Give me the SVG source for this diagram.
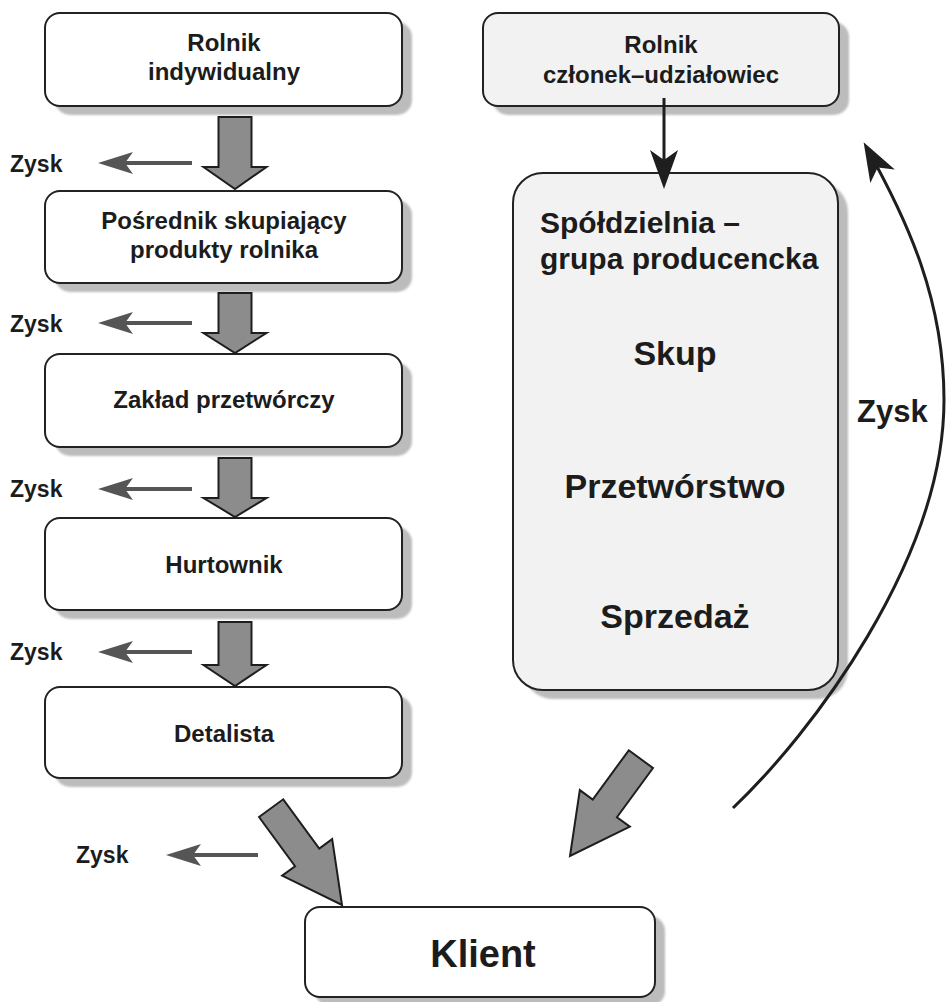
<svg xmlns="http://www.w3.org/2000/svg" width="946" height="1002" viewBox="0 0 946 1002">
<style>
text{font-family:"Liberation Sans",Arial,Helvetica,sans-serif;font-weight:bold;fill:#1c1c1c}
.box{fill:#ffffff;stroke:#222;stroke-width:2}
.box2{fill:#f2f2f2;stroke:#222;stroke-width:2}
.sh{fill:#bcbcbc;filter:url(#blur)}
.n{font-size:24px;text-anchor:middle}
.z{font-size:23px}
.blk{fill:#8c8c8c;stroke:#1e1e1e;stroke-width:2;stroke-linejoin:miter}
.thin{fill:none;stroke:#555;stroke-width:4;marker-end:url(#hg)}
.dark{fill:none;stroke:#1e1e1e;stroke-width:3;marker-end:url(#hb)}
</style>
<defs>
<filter id="blur" x="-10%" y="-10%" width="120%" height="120%"><feGaussianBlur stdDeviation="1.2"/></filter>
<marker id="hg" markerUnits="userSpaceOnUse" markerWidth="36" markerHeight="24" viewBox="0 0 36 24" refX="27" refY="12" orient="auto"><path d="M35 12 L0 1 L8 12 L0 23 Z" fill="#555"/></marker>
<marker id="hb" markerUnits="userSpaceOnUse" markerWidth="40" markerHeight="28" viewBox="0 0 40 28" refX="30" refY="14" orient="auto"><path d="M39 14 L0 0 L10 14 L0 28 Z" fill="#1e1e1e"/></marker>
</defs>
<rect width="946" height="1002" fill="#ffffff"/>

<g id="rolnik-indywidualny">
<rect class="sh" x="55" y="22" width="357" height="93" rx="15"/>
<rect class="box" x="45" y="13" width="357" height="93" rx="15"/>
<text class="n" x="224" y="51">Rolnik</text>
<text class="n" x="224" y="80">indywidualny</text>
</g>
<g id="posrednik">
<rect class="sh" x="55" y="200" width="357" height="92" rx="15"/>
<rect class="box" x="45" y="191" width="357" height="92" rx="15"/>
<text class="n" x="224" y="229">Pośrednik skupiający</text>
<text class="n" x="224" y="258">produkty rolnika</text>
</g>
<g id="zaklad">
<rect class="sh" x="55" y="363" width="357" height="93" rx="15"/>
<rect class="box" x="45" y="354" width="357" height="93" rx="15"/>
<text class="n" x="224" y="408">Zakład przetwórczy</text>
</g>
<g id="hurtownik">
<rect class="sh" x="55" y="527" width="357" height="92" rx="15"/>
<rect class="box" x="45" y="518" width="357" height="92" rx="15"/>
<text class="n" x="224" y="573">Hurtownik</text>
</g>
<g id="detalista">
<rect class="sh" x="55" y="696" width="357" height="91" rx="15"/>
<rect class="box" x="45" y="687" width="357" height="91" rx="15"/>
<text class="n" x="224" y="742">Detalista</text>
</g>

<g id="rolnik-czlonek">
<rect class="sh" x="493" y="22" width="356" height="93" rx="15"/>
<rect class="box2" x="483" y="13" width="356" height="93" rx="15"/>
<text class="n" x="661" y="53">Rolnik</text>
<text class="n" x="661" y="83">członek–udziałowiec</text>
</g>
<g id="spoldzielnia">
<rect class="sh" x="523" y="182" width="325" height="517" rx="30"/>
<rect class="box2" x="513" y="173" width="325" height="517" rx="30"/>
<text x="540" y="233" style="font-size:30px">Spółdzielnia –</text>
<text x="540" y="269" style="font-size:30px">grupa producencka</text>
<text x="675" y="365" style="font-size:34px;text-anchor:middle">Skup</text>
<text x="675" y="498" style="font-size:34px;text-anchor:middle">Przetwórstwo</text>
<text x="675" y="628" style="font-size:34px;text-anchor:middle">Sprzedaż</text>
</g>
<g id="klient">
<rect class="sh" x="315" y="916" width="350" height="90" rx="15"/>
<rect class="box" x="305" y="907" width="350" height="90" rx="15"/>
<text x="483" y="967" style="font-size:38px;text-anchor:middle">Klient</text>
</g>

<g id="connectors">
<path class="blk" d="M218.5 117 H251.5 V167 H266.5 L235 189 L203.5 167 H218.5 Z"/>
<path class="blk" d="M218.5 293 H251.5 V333 H266.5 L235 353 L203.5 333 H218.5 Z"/>
<path class="blk" d="M218.5 458 H251.5 V498 H266.5 L235 517 L203.5 498 H218.5 Z"/>
<path class="blk" d="M218.5 622 H251.5 V665 H266.5 L235 686 L203.5 665 H218.5 Z"/>
<path class="blk" transform="translate(342,905) rotate(-36.2)" d="M-15 -120 H15 V-59 H31 L0 0 L-31 -59 H-15 Z"/>
<path class="blk" transform="translate(570,856) rotate(36.2)" d="M-15 -120 H15 V-59 H31 L0 0 L-31 -59 H-15 Z"/>

<line class="thin" x1="192" y1="163" x2="106" y2="163"/>
<line class="thin" x1="192" y1="323" x2="106" y2="323"/>
<line class="thin" x1="192" y1="489" x2="106" y2="489"/>
<line class="thin" x1="192" y1="652" x2="106" y2="652"/>
<line class="thin" x1="258" y1="855" x2="174" y2="855"/>
<text class="z" x="10" y="172">Zysk</text>
<text class="z" x="10" y="332">Zysk</text>
<text class="z" x="10" y="497">Zysk</text>
<text class="z" x="10" y="660">Zysk</text>
<text class="z" x="76" y="863">Zysk</text>

<line class="dark" x1="664" y1="98" x2="664" y2="180"/>
<path class="dark" d="M733 808 C810 735 944 560 944 400 C944 300 908 222 868 150"/>
<text x="857" y="422" style="font-size:31px">Zysk</text>
</g>
</svg>
